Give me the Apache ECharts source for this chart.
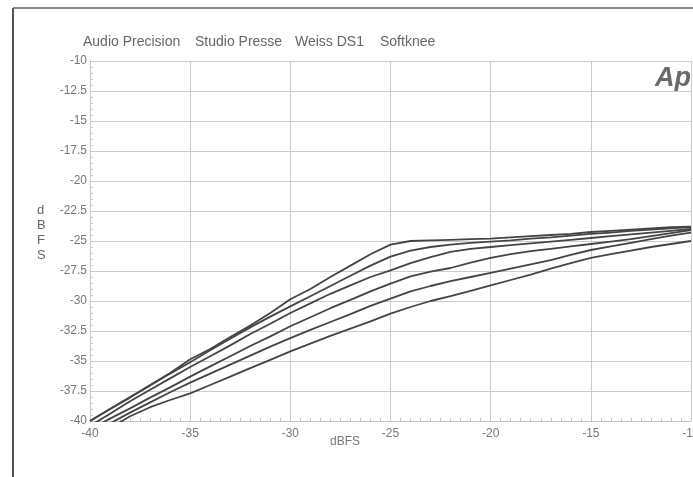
<!DOCTYPE html>
<html>
<head>
<meta charset="utf-8">
<script src="https://cdn.jsdelivr.net/npm/echarts@6/dist/echarts.min.js"></script>
<style>
html,body{margin:0;padding:0;background:#fff;overflow:hidden;}
#chart{width:693px;height:477px;}
</style>
</head>
<body>
<div id="chart"></div>
<script>
var titleParts = ["Audio Precision", "Studio Presse", "Weiss DS1", "Softknee"];
var xAxisName = "dBFS";
var yAxisName = "dBFS";
var inputLevels = [-40,-39,-38,-37,-36,-35,-34,-33,-32,-31,-30,-29,-28,-27,-26,-25,-24,-23,-22,-21,-20,-19,-18,-17,-16,-15,-14,-13,-12,-11,-10];
var curve1 = [-40.0,-39.0,-38.05,-37.0,-36.0,-34.85,-34.0,-33.0,-32.05,-31.0,-29.85,-29.0,-28.0,-27.05,-26.1,-25.3,-25.0,-24.95,-24.9,-24.85,-24.8,-24.7,-24.6,-24.5,-24.4,-24.25,-24.15,-24.05,-23.95,-23.85,-23.8];
var curve2 = [-40.0,-39.0,-38.0,-37.05,-36.05,-35.1,-34.1,-33.15,-32.2,-31.3,-30.45,-29.6,-28.75,-27.9,-27.05,-26.3,-25.8,-25.5,-25.3,-25.15,-25.05,-24.95,-24.8,-24.7,-24.55,-24.4,-24.3,-24.15,-24.05,-23.95,-23.85];
var curve3 = [-40.4,-39.4,-38.35,-37.4,-36.45,-35.5,-34.6,-33.7,-32.75,-31.9,-31.0,-30.2,-29.4,-28.7,-28.0,-27.45,-26.85,-26.35,-25.9,-25.65,-25.5,-25.35,-25.2,-25.05,-24.9,-24.75,-24.6,-24.45,-24.3,-24.15,-24.0];
var curve4 = [-40.7,-39.8,-38.95,-38.05,-37.2,-36.3,-35.45,-34.6,-33.75,-32.95,-32.1,-31.35,-30.6,-29.9,-29.2,-28.55,-27.95,-27.55,-27.25,-26.8,-26.4,-26.1,-25.85,-25.65,-25.45,-25.25,-25.05,-24.85,-24.6,-24.35,-24.1];
var curve5 = [-41.1,-40.2,-39.3,-38.45,-37.6,-36.8,-36.05,-35.3,-34.55,-33.8,-33.1,-32.4,-31.75,-31.1,-30.4,-29.8,-29.2,-28.75,-28.35,-28.0,-27.65,-27.3,-26.95,-26.6,-26.15,-25.75,-25.45,-25.15,-24.85,-24.55,-24.3];
var curve6 = [-41.6,-40.6,-39.6,-38.85,-38.25,-37.7,-37.0,-36.3,-35.6,-34.9,-34.2,-33.55,-32.9,-32.3,-31.7,-31.05,-30.5,-30.0,-29.6,-29.15,-28.7,-28.25,-27.8,-27.3,-26.85,-26.4,-26.1,-25.8,-25.5,-25.25,-25.0];
var curves = [curve1, curve2, curve3, curve4, curve5, curve6];

var chart = echarts.init(document.getElementById('chart'), null, {renderer: 'canvas'});

function pairs(ys) {
  return inputLevels.map(function (x, i) { return [x, ys[i]]; });
}

var series = curves.map(function (c) {
  return {
    type: 'line',
    data: pairs(c),
    showSymbol: false,
    symbol: 'none',
    clip: true,
    lineStyle: {color: '#444', width: 1.8},
    silent: true
  };
});

var titleX = [83, 195, 295, 380];
var graphics = [
  {type: 'line', shape: {x1: 13, y1: 8, x2: 693, y2: 8}, style: {stroke: '#8a8a8a', lineWidth: 2}},
  {type: 'line', shape: {x1: 13, y1: 8, x2: 13, y2: 477}, style: {stroke: '#555', lineWidth: 2}},
  {type: 'text', left: 37, top: 203, style: {text: yAxisName.split('').join('\n'), font: '13px "Liberation Sans", Arial, sans-serif', fill: '#666', lineHeight: 15, align: 'center'}},
  {type: 'text', x: 345, y: 442, style: {text: xAxisName, font: '12px "Liberation Sans", Arial, sans-serif', fill: '#777', align: 'center', verticalAlign: 'middle'}},
  {type: 'text', x: 655, y: 79, style: {text: 'Ap', font: 'italic bold 27px "Liberation Sans", Arial, sans-serif', fill: '#6a6a6a', verticalAlign: 'middle'}}
];
titleParts.forEach(function (t, i) {
  graphics.push({type: 'text', x: titleX[i], y: 42, style: {text: t, font: '14px "Liberation Sans", Arial, sans-serif', fill: '#666', verticalAlign: 'middle'}});
});

chart.setOption({
  animation: false,
  backgroundColor: '#fff',
  grid: {left: 90, top: 61, width: 601, height: 360, containLabel: false, outerBoundsMode: 'none'},
  xAxis: {
    type: 'value', min: -40, max: -10, interval: 5,
    axisLine: {show: true, onZero: false, lineStyle: {color: '#c4c4c4', width: 1}},
    axisTick: {show: true, inside: true, length: 3, lineStyle: {color: '#c4c4c4'}},
    minorTick: {show: true, splitNumber: 10, length: 3, lineStyle: {color: '#c8c8c8'}},
    splitLine: {show: true, lineStyle: {color: '#cccccc', width: 1}},
    axisLabel: {color: '#777', fontSize: 12, fontFamily: '"Liberation Sans", Arial, sans-serif', margin: 7}
  },
  yAxis: {
    type: 'value', min: -40, max: -10, interval: 2.5,
    axisLine: {show: true, onZero: false, lineStyle: {color: '#c4c4c4', width: 1}},
    axisTick: {show: true, inside: true, length: 3, lineStyle: {color: '#c4c4c4'}},
    minorTick: {show: true, splitNumber: 5, length: 3, lineStyle: {color: '#c8c8c8'}},
    splitLine: {show: true, lineStyle: {color: '#cccccc', width: 1}},
    axisLabel: {color: '#777', fontSize: 12, fontFamily: '"Liberation Sans", Arial, sans-serif', margin: 3}
  },
  series: series,
  graphic: graphics
});
</script>
</body>
</html>
